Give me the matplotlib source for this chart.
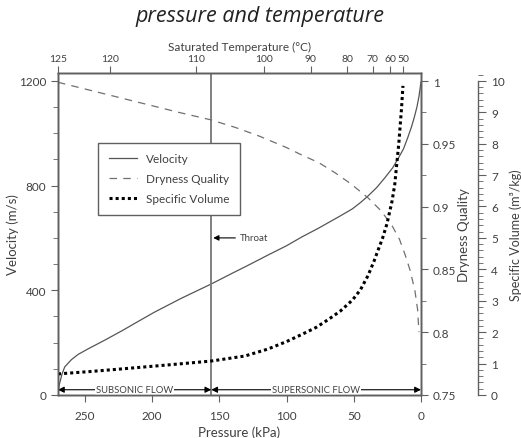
import numpy as np
import matplotlib.pyplot as plt
from matplotlib.ticker import MultipleLocator

# Pressure (kPa) / velocity (m/s)
vel_p = [270, 269, 267, 265, 260, 255, 248, 235, 222.5, 210, 198, 178, 156, 140, 131, 120, 114, 100,
         88.5, 76.6, 69, 60, 51, 45, 39.4, 33, 26.8, 21, 17.1, 13, 9.7, 7, 5, 3, 1.5, 0]
vel_v = [5, 40, 80, 107, 135, 155, 175, 210, 245, 282, 317, 370, 424, 466, 489, 518, 534, 570,
         604, 636, 658, 684, 711, 735, 760, 792, 830, 868, 902, 940, 985, 1025, 1060, 1100, 1140, 1195]

# Pressure (kPa) / dryness quality
dry_p = [270, 240, 210, 180, 156, 138, 120, 100, 88.5, 76, 64, 52, 39.4, 30, 21.6, 16, 11.9, 8, 4.5, 2.5, 1.5]
dry_q = [0.999, 0.991, 0.983, 0.975, 0.969, 0.963, 0.956, 0.947, 0.941, 0.935, 0.927, 0.918, 0.907,
         0.897, 0.885, 0.874, 0.862, 0.849, 0.833, 0.818, 0.800]

# Pressure (kPa) / specific volume (m3/kg)
sv_p = [270, 245, 222.5, 190, 156, 131, 114, 100, 88.5, 78, 69, 60, 51, 45, 39.4, 35, 32, 28.5,
        25.3, 21.6, 19.5, 17.9, 16.5, 15.6, 14.5, 13.4]
sv_v = [0.67, 0.75, 0.83, 0.95, 1.08, 1.24, 1.46, 1.70, 1.93, 2.15, 2.40, 2.67, 3.02, 3.35, 3.80,
        4.25, 4.60, 5.0, 5.45, 6.15, 6.7, 7.4, 8.0, 8.5, 9.1, 9.84]

# saturated temperature labels and their pressure position on the top axis
top_temps = [125, 120, 110, 100, 90, 80, 70, 60, 50]
top_press = [270, 231, 167, 117, 82, 55, 36, 23, 13]

throat_p = 156

plt.rcParams['font.family'] = ['Lato', 'DejaVu Sans']
txt = '#404040'
sp = '#606060'

fig = plt.figure(figsize=(5.21, 4.39), dpi=100)
ax = fig.add_axes([0.1113, 0.098, 0.6967, 0.7335])
ax2 = ax.twinx()
ax3 = ax.twinx()
axt = ax.twiny()

l1, = ax.plot(vel_p, vel_v, color='#555555', lw=0.9, label='Velocity')
l2, = ax2.plot(dry_p, dry_q, color='#707070', lw=0.9, dashes=(6, 5), label='Dryness Quality')
l3, = ax3.plot(sv_p, sv_v, color='black', lw=2.2, linestyle=(0, (1, 1)), dash_capstyle='butt', label='Specific Volume')

ax.axvline(throat_p, color='#808080', lw=1.4)

ax.set_xlim(270, 0)
ax.set_ylim(0, 1230)
ax2.set_ylim(0.75, 1.0064)
ax3.set_ylim(0, 10.25)
axt.set_xlim(270, 0)

ax.set_xticks([250, 200, 150, 100, 50, 0])
ax.set_yticks([0, 400, 800, 1200])
ax.yaxis.set_minor_locator(MultipleLocator(100))
ax2.set_yticks([0.75, 0.8, 0.85, 0.9, 0.95, 1.0])
ax2.set_yticklabels(['0.75', '0.8', '0.85', '0.9', '0.95', '1'])
ax2.yaxis.set_minor_locator(MultipleLocator(0.025))
ax3.set_yticks(range(0, 11))
ax3.yaxis.set_minor_locator(MultipleLocator(0.2))
axt.set_xticks(top_press)
axt.set_xticklabels([str(t) for t in top_temps])

for a in (ax, ax2, ax3, axt):
    for s in a.spines.values():
        s.set_color(sp)
        s.set_linewidth(1.0)
    a.tick_params(which='both', colors=sp, labelcolor=txt, labelsize=8.5)
    a.tick_params(which='major', length=5)
    a.tick_params(which='minor', length=3.5)

ax.tick_params(axis='x', pad=6)
axt.tick_params(labelsize=7.5, length=5, pad=2)
ax3.spines['right'].set_position(('outward', 41))
ax3.spines['right'].set_bounds(0, 10)
for s in ('left', 'top', 'bottom'):
    ax3.spines[s].set_visible(False)
ax3.tick_params(which='major', length=6)

ax.set_xlabel('Pressure (kPa)', fontsize=9.5, color=txt, labelpad=3)
ax.set_ylabel('Velocity (m/s)', fontsize=9.5, color=txt)
ax2.set_ylabel('Dryness Quality', fontsize=9.5, color=txt)
ax3.set_ylabel('Specific Volume (m³/kg)', fontsize=9, color=txt)
ax.yaxis.set_label_coords(-0.108, 0.5)
ax2.yaxis.set_label_coords(1.102, 0.5)
ax3.yaxis.set_label_coords(1.243, 0.5)
axt.set_xlabel('Saturated Temperature (°C)', fontsize=8.5, color=txt, labelpad=3)

# flow regime arrows
ay = 20
ap = dict(arrowstyle='<|-|>', color='black', lw=0.8, mutation_scale=9, shrinkA=0, shrinkB=0)
ax.annotate('', xy=(270, ay), xytext=(throat_p, ay), arrowprops=ap)
ax.annotate('', xy=(throat_p, ay), xytext=(0, ay), arrowprops=ap)
ax.text(213, ay, 'SUBSONIC FLOW', fontsize=6.8, color=txt, ha='center', va='center',
        bbox=dict(facecolor='white', edgecolor='none', pad=0.5))
ax.text(78, ay, 'SUPERSONIC FLOW', fontsize=6.8, color=txt, ha='center', va='center',
        bbox=dict(facecolor='white', edgecolor='none', pad=0.5))

ax.annotate('Throat', xy=(154.5, 600), xytext=(135, 600), fontsize=7, color=txt,
            va='center', ha='left',
            arrowprops=dict(arrowstyle='-|>', color='black', lw=0.8, mutation_scale=8, shrinkA=1, shrinkB=0))

leg = ax3.legend(handles=[l1, l2, l3], loc='upper left', bbox_to_anchor=(0.110, 0.783),
                 fontsize=8.5, fancybox=False, framealpha=1, edgecolor=sp,
                 handlelength=2.4, borderpad=0.9, labelspacing=0.75, borderaxespad=0)
for t in leg.get_texts():
    t.set_color(txt)

fig.text(0.499, 0.963, 'pressure and temperature', fontsize=15.5, style='italic',
         family='Open Sans', color='#222222', ha='center', va='center')

fig.savefig('out.png', dpi=100)
